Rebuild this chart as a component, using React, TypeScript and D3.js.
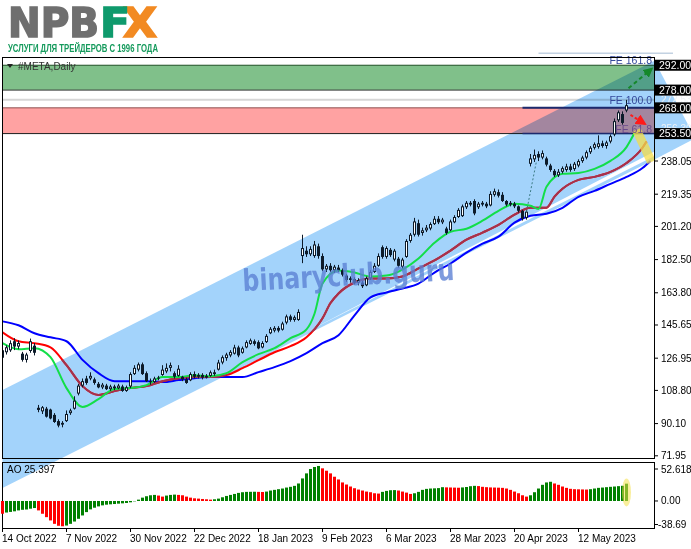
import React from 'react';
import * as d3 from 'd3';

const WIDTH = 691;
const HEIGHT = 549;
const LEFT = 2;
const RIGHT = 654;
const MAIN_TOP = 57;
const MAIN_BOTTOM = 458;
const AO_TOP = 462;
const AO_BOTTOM = 528;

// #META daily, 14 Oct 2022 .. 31 May 2023
const opens = [
  131.4, 130.3, 131.4, 136.5, 133.5, 129.5, 126.0, 131.0, 134.0, 99.0,
  97.0, 98.5, 98.0, 95.0, 91.5, 89.5, 91.5, 96.0, 98.5, 107.0,
  111.5, 115.5, 115.5, 115.0, 112.5, 110.5, 111.5, 109.5, 111.0, 110.0,
  111.0, 108.5, 111.0, 118.0, 120.5, 123.5, 118.5, 114.0, 113.5, 115.5,
  117.5, 119.5, 121.5, 118.5, 117.0, 116.5, 115.0, 114.5, 118.0, 116.5,
  117.5, 116.0, 117.0, 119.0, 120.5, 124.5, 127.0, 128.5, 129.5, 133.0,
  130.0, 133.0, 135.0, 136.5, 136.0, 133.0, 136.0, 141.0, 142.5, 144.0,
  143.0, 147.0, 150.5, 148.5, 148.5, 184.5, 187.5, 185.5, 184.5, 190.0,
  184.5, 177.0, 179.0, 176.5, 178.0, 176.5, 173.5, 171.0, 171.5, 169.5,
  169.5, 168.0, 172.0, 175.5, 179.0, 189.5, 184.0, 188.0, 182.5, 183.0,
  178.5, 184.0, 193.0, 196.5, 203.0, 197.5, 199.0, 200.0, 202.5, 205.5,
  203.5, 200.0, 199.0, 203.5, 206.5, 207.0, 212.0, 214.5, 215.5, 212.0,
  213.5, 214.0, 213.0, 219.0, 220.5, 219.0, 215.5, 213.5, 214.0, 212.5,
  210.0, 206.0, 236.5, 239.0, 242.0, 240.0, 239.5, 235.5, 232.5, 230.0,
  232.0, 233.0, 235.0, 233.5, 235.5, 238.0, 240.0, 243.0, 245.5, 246.0,
  248.0, 246.5, 249.0, 253.0, 261.0, 264.5, 266.5,
];
const highs = [
  132.5, 134.2, 137.0, 138.2, 137.0, 130.5, 130.0, 138.0, 135.5, 100.6,
  100.0, 99.5, 98.5, 96.0, 92.5, 91.5, 97.5, 98.5, 105.5, 112.5,
  115.5, 117.0, 119.0, 116.0, 113.5, 113.0, 112.5, 112.0, 112.0, 112.5,
  112.0, 111.5, 119.0, 123.0, 124.5, 124.5, 119.5, 115.5, 116.5, 117.0,
  123.0, 124.0, 124.5, 119.5, 123.0, 117.0, 116.0, 119.0, 119.5, 118.5,
  118.5, 118.0, 120.0, 120.5, 126.0, 128.5, 130.0, 131.5, 134.5, 134.0,
  133.5, 137.0, 138.0, 137.5, 137.0, 136.5, 140.5, 144.5, 145.0, 145.0,
  147.5, 151.5, 151.5, 151.0, 154.5, 196.5, 190.0, 190.0, 193.0, 191.5,
  186.0, 180.0, 180.5, 179.5, 179.5, 177.5, 174.5, 173.0, 172.5, 172.0,
  170.5, 173.0, 176.5, 180.5, 186.0, 190.5, 190.0, 189.0, 188.5, 184.0,
  183.5, 194.0, 197.5, 206.0, 205.0, 200.5, 202.0, 203.5, 207.0, 207.0,
  206.0, 201.0, 205.0, 207.5, 211.5, 213.5, 215.5, 215.5, 216.5, 215.0,
  215.5, 215.0, 221.0, 222.5, 222.0, 220.5, 216.0, 215.5, 215.0, 213.0,
  210.5, 210.5, 242.0, 244.5, 243.5, 244.0, 240.5, 236.5, 233.5, 233.5,
  235.0, 236.5, 236.5, 237.5, 239.0, 241.0, 244.0, 246.5, 248.5, 252.5,
  249.5, 249.5, 253.0, 262.0, 266.5, 266.0, 272.5,
];
const lows = [
  126.5, 129.0, 130.5, 131.5, 132.0, 125.0, 124.5, 130.0, 128.5, 96.5,
  95.5, 93.5, 92.5, 90.5, 88.0, 88.0, 91.0, 95.0, 98.0, 106.0,
  110.5, 112.0, 114.5, 112.0, 110.0, 109.5, 109.0, 108.5, 109.0, 109.5,
  108.0, 108.0, 110.0, 117.5, 119.5, 117.5, 113.5, 112.0, 113.0, 114.5,
  117.0, 118.5, 119.5, 115.5, 116.5, 114.0, 112.5, 114.0, 115.5, 115.5,
  115.0, 115.5, 116.5, 117.0, 120.0, 123.5, 125.5, 127.5, 129.0, 127.5,
  129.5, 132.5, 134.5, 134.0, 132.0, 132.5, 135.5, 140.5, 141.5, 141.5,
  142.5, 146.0, 147.5, 147.5, 148.0, 180.5, 184.0, 184.5, 183.5, 183.0,
  176.0, 175.5, 175.5, 175.0, 175.5, 173.0, 170.0, 169.5, 168.5, 168.0,
  166.5, 167.5, 171.0, 175.0, 178.5, 183.0, 183.0, 184.0, 181.5, 178.0,
  177.5, 183.5, 192.0, 195.5, 195.5, 196.0, 198.0, 199.0, 202.0, 202.5,
  202.5, 196.5, 198.5, 203.0, 206.0, 206.5, 211.0, 212.5, 207.5, 211.0,
  212.5, 211.5, 212.5, 218.0, 217.5, 215.0, 212.5, 212.5, 211.5, 209.0,
  204.5, 205.0, 235.0, 237.5, 238.0, 239.0, 235.0, 232.0, 229.0, 229.0,
  231.0, 232.0, 232.0, 232.5, 234.5, 237.0, 239.0, 242.0, 244.5, 245.0,
  245.5, 245.0, 248.0, 252.0, 260.0, 258.5, 265.5,
];
const closes = [
  127.2, 133.1, 135.4, 133.5, 135.5, 126.0, 129.0, 136.5, 130.0, 97.8,
  99.3, 94.0, 93.0, 91.0, 89.0, 90.5, 95.5, 97.5, 103.0, 111.5,
  114.0, 113.0, 117.0, 113.0, 110.5, 112.0, 109.5, 111.0, 110.0, 111.5,
  108.5, 110.5, 118.0, 121.5, 123.5, 118.0, 114.0, 113.5, 115.5, 116.0,
  120.5, 121.5, 123.0, 116.5, 121.0, 115.0, 113.0, 118.0, 116.5, 117.5,
  116.0, 117.0, 119.0, 118.0, 124.5, 127.5, 129.0, 130.5, 133.0, 128.5,
  132.5, 136.0, 137.0, 135.0, 132.5, 135.5, 139.5, 143.5, 144.0, 142.5,
  146.5, 150.5, 148.5, 150.0, 153.0, 189.0, 185.5, 188.5, 191.0, 184.5,
  177.0, 179.0, 176.5, 178.5, 176.5, 174.0, 171.0, 172.0, 169.5, 171.0,
  167.5, 172.0, 175.5, 179.0, 184.5, 184.0, 189.0, 185.0, 187.5, 179.0,
  182.5, 193.0, 196.5, 204.0, 196.5, 199.0, 200.5, 202.5, 205.5, 203.5,
  205.0, 197.5, 204.0, 206.5, 210.5, 212.5, 214.5, 213.5, 208.5, 214.0,
  214.5, 212.5, 219.5, 221.0, 218.5, 215.5, 213.5, 214.5, 212.5, 210.0,
  205.5, 209.5, 239.5, 241.5, 240.0, 242.5, 236.0, 233.0, 230.0, 232.0,
  234.0, 235.0, 233.0, 236.5, 238.0, 240.0, 243.0, 245.5, 247.5, 248.0,
  246.5, 248.5, 252.0, 260.5, 265.5, 259.5, 269.5,
];

// Awesome Oscillator, one value per bar
const aoValues = [
  -21.0, -19.0, -18.0, -17.0, -15.5, -14.5, -14.0, -12.7, -11.6, -15.5,
  -21.0, -26.6, -32.0, -37.6, -40.8, -41.6, -40.4, -37.6, -33.8, -29.3,
  -23.8, -18.3, -13.8, -11.1, -8.9, -7.2, -6.1, -5.5, -5.0, -4.4,
  -3.9, -3.3, -2.2, -0.6, 2.2, 5.5, 7.8, 9.4, 10.0, 8.9,
  7.2, 8.9, 10.0, 10.5, 10.0, 9.4, 7.2, 5.5, 4.4, 3.9,
  3.3, 2.8, 2.2, 2.8, 3.9, 6.1, 8.3, 10.0, 11.6, 13.3,
  14.4, 15.0, 15.1, 15.2, 15.0, 14.8, 15.5, 17.2, 18.3, 19.4,
  20.5, 22.1, 23.3, 24.9, 28.8, 37.1, 45.4, 52.6, 55.9, 57.6,
  53.7, 49.8, 45.4, 39.9, 35.4, 30.5, 27.1, 23.8, 21.0, 18.8,
  17.2, 15.5, 14.4, 12.7, 12.2, 15.0, 16.6, 17.7, 17.9, 17.2,
  15.5, 13.8, 11.6, 12.7, 15.0, 18.3, 19.9, 20.5, 20.8, 21.2,
  22.7, 22.4, 22.2, 22.0, 21.8, 22.3, 23.0, 24.3, 24.9, 24.5,
  23.3, 22.7, 22.3, 22.1, 21.9, 21.6, 20.5, 18.3, 15.5, 12.7,
  9.4, 7.2, 9.4, 14.4, 20.5, 26.6, 30.5, 31.6, 28.8, 26.6,
  23.8, 21.6, 20.0, 19.4, 19.2, 19.0, 18.8, 19.4, 20.5, 21.6,
  22.1, 22.7, 23.3, 23.8, 24.4, 25.0, 28.5,
];

// Alligator lines: [bar, price]
const jaw: [number, number][] = [
  [0, 147.7], [4, 145.5], [8, 141.0], [12, 138.7], [16, 136.5], [20, 126.0], [24, 118.5],
  [28, 114.0], [32, 114.0], [36, 114.0], [40, 113.5], [44, 114.6], [48, 115.7], [52, 116.3],
  [56, 116.3], [60, 116.3], [64, 119.1], [68, 121.9], [72, 125.3], [76, 129.8], [80, 135.4],
  [84, 139.9], [88, 151.1], [92, 161.2], [96, 164.0], [100, 166.2], [104, 169.0], [108, 175.2],
  [112, 180.3], [116, 186.4], [120, 191.5], [124, 195.4], [128, 203.3], [132, 207.2],
  [136, 208.3], [140, 211.7], [144, 217.9], [148, 221.2], [152, 225.2], [156, 229.1],
  [160, 234.1], [162, 238.1],
];
const teeth: [number, number][] = [
  [0, 141.5], [4, 136.5], [8, 135.4], [12, 133.1], [16, 123.0], [20, 111.2], [24, 106.2],
  [28, 108.4], [32, 110.1], [36, 111.2], [40, 114.0], [44, 115.7], [48, 116.3], [52, 116.3],
  [56, 117.4], [60, 121.3], [64, 125.8], [68, 130.3], [72, 133.7], [76, 138.7], [80, 149.4],
  [82, 158.0], [84, 163.4], [88, 169.6], [92, 171.8], [96, 171.8], [100, 173.0], [104, 177.5],
  [108, 182.0], [112, 187.6], [116, 193.7], [120, 197.7], [124, 202.1], [128, 207.8],
  [132, 211.7], [136, 211.7], [138, 218.0], [140, 222.4], [144, 227.4], [148, 229.1],
  [152, 231.9], [156, 236.9], [160, 245.5], [161, 249.0],
];
const lips: [number, number][] = [
  [0, 135.4], [4, 132.0], [8, 132.6], [12, 127.5], [16, 110.1], [20, 99.5], [24, 103.9],
  [28, 109.6], [32, 110.1], [36, 111.8], [40, 116.3], [44, 116.3], [48, 117.4], [52, 116.8],
  [56, 118.5], [60, 124.7], [64, 129.2], [68, 132.6], [72, 138.2], [76, 143.2], [78, 152.0],
  [80, 169.0], [84, 176.3], [88, 175.2], [92, 173.0], [96, 173.5], [100, 176.9], [104, 183.1],
  [108, 192.0], [112, 198.2], [116, 199.9], [120, 204.4], [124, 210.0], [128, 213.9],
  [132, 212.8], [134, 211.0], [136, 223.5], [140, 230.8], [144, 231.3], [148, 233.6],
  [152, 238.1], [156, 245.9], [158, 253.8],
];

const dateLabels = [
  '14 Oct 2022', '7 Nov 2022', '30 Nov 2022', '22 Dec 2022', '18 Jan 2023',
  '9 Feb 2023', '6 Mar 2023', '28 Mar 2023', '20 Apr 2023', '12 May 2023',
];
const dateBars = [0, 16, 32, 48, 64, 80, 96, 112, 128, 144];

const priceTicks = [238.05, 219.35, 201.2, 182.5, 163.8, 145.65, 126.95, 108.8, 90.1, 71.95];
const aoTicks = [52.618, 0, -38.69];
const aoTickLabels = ['52.618', '0.00', '-38.69'];

const greenZone = [292, 278];
const redZone = [268, 253.5];
const boxLevels = [292, 278, 268, 253.5];
const feLevels = [298.79, 272.53, 256.3];
const feNames = ['FE 161.8', 'FE 100.0', 'FE 61.8'];

// drawn objects, [bar, price]
const channelUpper: [number, number][] = [[0, 109.0], [163, 294.5], [172.25, 254.9]];
const channelLower: [number, number][] = [[172.25, 249.8], [163, 238.9], [0, 53.8]];
const overlapStripe: [number, number][] = [[75, 140.6], [163, 243.4], [163, 240.85]];
const gapLine: [number, number][] = [[131, 209.5], [133.5, 238]];
const greenArrow: [number, number][] = [[156.5, 279], [162.3, 290]];
const redArrow: [number, number][] = [[157, 264], [160.6, 259]];
const yellowMark: [number, number][] = [[158.5, 255.5], [162.25, 237.5]];

const x = d3.scaleLinear().domain([0, 156]).range([2.5, 626.5]);
const y = d3.scaleLinear().domain([71.95, 238.05]).range([455.8, 161]);
const yAo = d3.scaleLinear().domain([-38.69, 52.618]).range([524.5, 469]);

const FONT = "'Liberation Sans', Arial, sans-serif";
const LOGO_FONT = "'DejaVu Sans', sans-serif";
const CANDLE = '#0d1b2a';

export default function App() {
  const smooth = d3
    .line<[number, number]>()
    .x(d => x(d[0]))
    .y(d => y(d[1]))
    .curve(d3.curveMonotoneX);
  const straight = d3
    .line<[number, number]>()
    .x(d => x(d[0]))
    .y(d => y(d[1]));

  const channelPath = straight([...channelUpper, ...channelLower]) + 'Z';
  const stripePath = straight(overlapStripe) + 'Z';

  const bars = opens.map((o, i) => ({ i, o, h: highs[i], l: lows[i], c: closes[i] }));

  return (
    <svg
      width={WIDTH}
      height={HEIGHT}
      style={{ position: 'absolute', left: 0, top: 0, background: '#fff' }}
      fontFamily={FONT}
    >
      <defs>
        <clipPath id="main-clip">
          <rect x={LEFT} y={MAIN_TOP} width={RIGHT - LEFT} height={MAIN_BOTTOM - MAIN_TOP} />
        </clipPath>
        <clipPath id="channel-clip">
          <path d={channelPath} />
        </clipPath>
        <marker id="head-green" viewBox="0 0 10 10" refX="8" refY="5" markerWidth="5" markerHeight="5" orient="auto">
          <path d="M0,0 L10,5 L0,10 Z" fill="#15882a" />
        </marker>
        <marker id="head-red" viewBox="0 0 10 10" refX="8" refY="5" markerWidth="5.5" markerHeight="5.5" orient="auto">
          <path d="M0,0 L10,5 L0,10 Z" fill="#ff1a1a" />
        </marker>
      </defs>

      <rect width={WIDTH} height={HEIGHT} fill="#fff" />

      {/* logo */}
      <text x={8} y={37} fontFamily={LOGO_FONT} fontWeight={900} fontSize={40} fill="#6f6f6f"
        stroke="#6f6f6f" strokeWidth={1.6} textLength={91} lengthAdjust="spacingAndGlyphs">NPB</text>
      <text x={123} y={37} fontFamily={LOGO_FONT} fontWeight={900} fontSize={40} fill="#f28a22"
        stroke="#f28a22" strokeWidth={1.6} textLength={34} lengthAdjust="spacingAndGlyphs">X</text>
      <text x={100} y={37} fontFamily={LOGO_FONT} fontWeight={900} fontSize={40} fill="#0f9a6c"
        stroke="#0f9a6c" strokeWidth={1.6} textLength={30} lengthAdjust="spacingAndGlyphs">F</text>
      <text x={8} y={51.5} fontWeight={700} fontSize={10} fill="#159a5c"
        textLength={150} lengthAdjust="spacingAndGlyphs">УСЛУГИ ДЛЯ ТРЕЙДЕРОВ С 1996 ГОДА</text>

      {/* zones */}
      <rect x={LEFT} y={y(greenZone[0])} width={RIGHT - LEFT} height={y(greenZone[1]) - y(greenZone[0])} fill="#80c08a" />
      <line x1={LEFT} x2={RIGHT} y1={y(greenZone[0])} y2={y(greenZone[0])} stroke="#1f4f24" />
      <line x1={LEFT} x2={RIGHT} y1={y(greenZone[1])} y2={y(greenZone[1])} stroke="#3a3a3a" />
      <rect x={LEFT} y={y(redZone[0])} width={RIGHT - LEFT} height={y(redZone[1]) - y(redZone[0])} fill="#ffa2a2" />
      <line x1={LEFT} x2={RIGHT} y1={y(redZone[0])} y2={y(redZone[0])} stroke="#8e4e4e" />
      <line x1={LEFT} x2={RIGHT} y1={y(redZone[1])} y2={y(redZone[1])} stroke="#1e1e1e" />
      <line x1={LEFT} x2={RIGHT} y1={y(feLevels[1])} y2={y(feLevels[1])} stroke="#d6d6d6" strokeWidth={2} />

      {/* channel */}
      <path d={channelPath} fill="#a3d3fb" style={{ mixBlendMode: 'multiply' }} />
      <path d={stripePath} fill="#ffffff" />

      {/* FE lines */}
      <line x1={x(134)} x2={673} y1={y(feLevels[0])} y2={y(feLevels[0])} stroke="#c3d2e2" strokeWidth={1.5} />
      <line x1={x(130)} x2={RIGHT} y1={y(redZone[0])} y2={y(redZone[0])} stroke="#1c2a6e" strokeWidth={2} />
      <line x1={x(130)} x2={RIGHT} y1={y(redZone[1])} y2={y(redZone[1])} stroke="#1c2a6e" strokeWidth={1.5} />

      <g clipPath="url(#main-clip)">
        <path d={smooth(jaw) ?? ''} fill="none" stroke="#0000ff" strokeWidth={2} />
        <path d={smooth(teeth) ?? ''} fill="none" stroke="#ff0000" strokeWidth={2} />
        <path d={smooth(teeth) ?? ''} fill="none" stroke="#a3334e" strokeWidth={2} clipPath="url(#channel-clip)" />
        <path d={smooth(lips) ?? ''} fill="none" stroke="#12de48" strokeWidth={2} />

        {bars.map(b => {
          const cx = x(b.i);
          const top = y(Math.max(b.o, b.c));
          const bot = y(Math.min(b.o, b.c));
          const bull = b.c >= b.o;
          const hgt = Math.max(bot - top, 1);
          return (
            <g key={b.i}>
              <line x1={cx} x2={cx} y1={y(b.h)} y2={y(b.l)} stroke={CANDLE} strokeWidth={1} />
              <rect x={cx - 1.5} y={top} width={3} height={hgt} fill={CANDLE} />
              {bull && hgt > 2 && (
                <rect x={cx - 0.5} y={top + 1} width={1} height={hgt - 2} fill="#ffffff" />
              )}
            </g>
          );
        })}

        <path d={straight(gapLine) ?? ''} fill="none" stroke="#3d7c86" strokeWidth={1} strokeDasharray="2,2" />
      </g>

      {/* watermark */}
      <text transform="translate(243,291) rotate(-3)" fontFamily={LOGO_FONT} fontWeight={700}
        fontSize={30} fill="#5b80d4" opacity={0.78} textLength={212} lengthAdjust="spacingAndGlyphs">
        binaryclub.guru
      </text>

      {/* annotations */}
      <path d={straight(yellowMark) ?? ''} stroke="#f4dc48" strokeOpacity={0.75} strokeWidth={9} fill="none" />
      <path d={straight(greenArrow) ?? ''} stroke="#15882a" strokeWidth={2} strokeDasharray="4,3" fill="none"
        markerEnd="url(#head-green)" />
      <path d={straight(redArrow) ?? ''} stroke="#ff1a1a" strokeWidth={2} strokeDasharray="3,2" fill="none"
        markerEnd="url(#head-red)" />

      {feNames.map((name, k) => (
        <text key={name} x={652} y={y(feLevels[k]) + (k === 0 ? 10.5 : 4)} textAnchor="end" fontSize={10.5}
          fill={k === 2 ? '#6a4a8c' : '#34489a'}>{name}</text>
      ))}

      {/* frames */}
      <rect x={LEFT + 0.5} y={MAIN_TOP + 0.5} width={RIGHT - LEFT} height={MAIN_BOTTOM - MAIN_TOP}
        fill="none" stroke="#000" />
      <rect x={LEFT + 0.5} y={AO_TOP + 0.5} width={RIGHT - LEFT} height={AO_BOTTOM - AO_TOP}
        fill="none" stroke="#000" />

      {/* AO */}
      <g>
        {aoValues.map((v, i) => {
          const up = i > 0 && v > aoValues[i - 1];
          const y0 = yAo(0);
          const y1 = yAo(v);
          return (
            <rect key={i} x={x(i) - 1.5} y={Math.min(y0, y1)} width={3} height={Math.abs(y1 - y0)}
              fill={up ? '#008000' : '#ff0000'} />
          );
        })}
        <ellipse cx={x(156)} cy={yAo(14)} rx={4.5} ry={14} fill="#f4e04a" opacity={0.55} />
        <text x={7} y={473} fontSize={10} fill="#000">AO 25.397</text>
      </g>

      {/* price axis */}
      {priceTicks.map(p => (
        <g key={p}>
          <line x1={RIGHT} x2={RIGHT + 4} y1={y(p)} y2={y(p)} stroke="#000" />
          <text x={661} y={y(p) + 3.5} fontSize={10} fill="#000">{p.toFixed(2)}</text>
        </g>
      ))}
      {[feLevels[1], feLevels[2]].map(p => (
        <text key={p} x={661} y={y(p) + 3.5} fontSize={10} fill="#eef2f6">{p.toFixed(2)}</text>
      ))}
      {boxLevels.map(p => (
        <g key={p}>
          <rect x={RIGHT + 1} y={y(p) - 5.5} width={WIDTH - RIGHT - 1} height={11} fill="#000" />
          <text x={659} y={y(p) + 3.8} fontSize={10.5} fill="#fff">{p.toFixed(2)}</text>
        </g>
      ))}

      {aoTicks.map((v, k) => (
        <g key={v}>
          <line x1={RIGHT} x2={RIGHT + 4} y1={yAo(v)} y2={yAo(v)} stroke="#000" />
          <text x={v < 0 ? 658 : 661} y={yAo(v) + 3.5} fontSize={10} fill="#000">{aoTickLabels[k]}</text>
        </g>
      ))}

      {/* time axis */}
      {dateBars.map((b, k) => (
        <g key={b}>
          <line x1={x(b)} x2={x(b)} y1={AO_BOTTOM} y2={AO_BOTTOM + 4} stroke="#000" />
          <text x={x(b) - 0.5} y={542} fontSize={10} fill="#000">{dateLabels[k]}</text>
        </g>
      ))}

      {/* symbol caption */}
      <path d="M7,64 L13,64 L10,68 Z" fill="#222" />
      <text x={18} y={70} fontSize={10} fill="#333">#META,Daily</text>
    </svg>
  );
}
